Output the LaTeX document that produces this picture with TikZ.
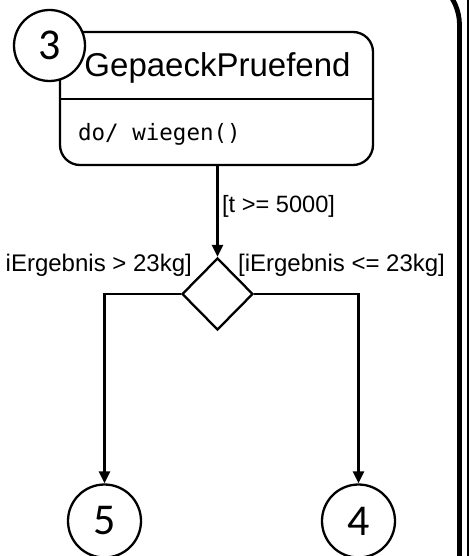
\documentclass[tikz,border=0pt]{standalone}
\usepackage{fontspec}
\setmainfont{Liberation Sans}
\newfontfamily\digitfont{Carlito}
\newfontfamily\codefont{DejaVu Sans Mono}
\usetikzlibrary{shapes.geometric,arrows.meta}
\begin{document}
\begin{tikzpicture}[x=1pt,y=-1pt,
  line width=2.3pt,
  statebox/.style={draw, rectangle, rounded corners=20pt, minimum width=313pt, minimum height=133pt, inner sep=0pt},
  refcircle/.style={draw, circle, fill=white, inner sep=0pt, font=\digitfont\fontsize{44}{44}\selectfont},
  choice/.style={draw, diamond, minimum width=71pt, minimum height=72pt, inner sep=0pt},
  guard/.style={inner sep=0pt, font=\fontsize{24}{24}\selectfont},
  flow/.style={-{Triangle[length=12pt,width=11pt]}},
  framethick/.style={line width=4.8pt, rounded corners=51pt},
  framethin/.style={line width=1.8pt},
]
\useasboundingbox (0,0) rectangle (470,556);
\clip (0,0) rectangle (470,556);

% state box
\node[statebox] (sb) at (216.5,98.5) {};
\coordinate (sep) at (0,99);
\draw (sb.west |- sep) -- (sb.east |- sep);
\node[anchor=base, inner sep=0pt, font=\fontsize{33}{33}\selectfont] (title) at (217.5,77) {GepaeckPruefend};
\node[anchor=base west, inner sep=0pt, font=\codefont\fontsize{22.5}{22.5}\selectfont] (act) at (77,141) {do/ wiegen()};

% reference circles
\node[refcircle, minimum size=71pt] (c3) at (49.5,45.5) {3};
\node[refcircle, minimum size=73pt] (c5) at (104.5,521) {5};
\node[refcircle, minimum size=73pt] (c4) at (358.5,521) {4};

% choice
\node[choice] (dia) at (217.5,294) {};

% connectors
\draw[flow] (dia.north |- sb.south) -- (dia.north);
\draw[flow] (dia.west) -| (c5.north);
\draw[flow] (dia.east) -| (c4.north);

% guards
\node[guard, anchor=base west, font=\fontsize{23.6}{24}\selectfont] (g1) at (221,212) {[t >= 5000]};
\node[guard, anchor=base east] (g2) at (193,271) {iErgebnis > 23kg]};
\node[guard, anchor=base west] (g3) at (237,271) {[iErgebnis <= 23kg]};

% outer frame fragments
\draw[framethick] (459.5,600) -- (459.5,-26) -- (300,-26);
\draw[framethin] (468,-10) -- (468,600);
\end{tikzpicture}
\end{document}
